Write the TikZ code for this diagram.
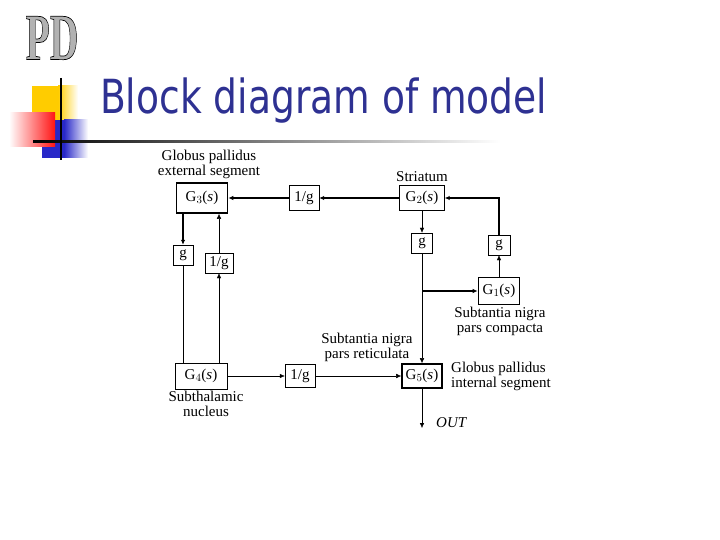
\documentclass[tikz,border=0pt]{standalone}
\usepackage{fontspec}
\setmainfont{Liberation Serif}
\newfontfamily\titlefont{DejaVu Sans}
\usetikzlibrary{arrows.meta}
\definecolor{titleblue}{RGB}{46,49,146}
\definecolor{decoyellow}{RGB}{255,204,0}
\definecolor{decored}{RGB}{255,20,20}
\definecolor{decoblue}{RGB}{40,40,200}
\newcommand{\outlinetext}[1]{\special{pdf:literal direct 2 Tr 0.7 w 0 G 0.7 g}#1\special{pdf:literal direct 0 Tr}}
\tikzset{
  blk/.style={draw, thin, inner sep=2pt, font=\fontsize{15}{15}\selectfont},
  blkthick/.style={blk, line width=1.6pt, inner xsep=3pt},
  lbl/.style={align=center, inner sep=0pt, font=\fontsize{15}{15}\selectfont},
  thickline/.style={line width=1.6pt},
}
\begin{document}
\begin{tikzpicture}[x=1pt, y=-1pt, >={Latex[length=5pt,width=4.5pt]}]
\useasboundingbox (0,0) rectangle (720,540);
% slide decoration
\node[font=\fontsize{66}{66}\bfseries\selectfont, xscale=.6] (logo) at (52,38) {\outlinetext{PD}};
\fill[decoyellow] (32,86) rectangle (58,120);
\shade[left color=decoyellow, right color=white] (58,86) rectangle (78,120);
\fill[decoblue] (42,120) rectangle (64,158);
\shade[left color=decoblue, right color=white] (64,120) rectangle (88,158);
\shade[left color=white, right color=decored] (9,113) rectangle (55,147);
\shade[left color=black, right color=white] (33,141) rectangle (500,143);
\draw[line width=2pt] (61,78) -- (61,160);
\node[anchor=base west, inner sep=0pt, text=titleblue, xscale=.8,
  font=\titlefont\fontsize{47}{47}\selectfont] (title) at (100,114) {Block diagram of model};
% blocks
\node[blkthick, minimum width=51pt, minimum height=30pt] (g3) at (202,198) {G$_3$(\textit{s})};
\node[blk, minimum width=30pt, minimum height=25pt] (ginvtop) at (304,198) {1/g};
\node[blk, minimum width=45pt, minimum height=25pt] (g2) at (422,198) {G$_2$(\textit{s})};
\node[blk, minimum width=21pt, minimum height=20pt] (gmid) at (422,243) {g};
\node[blk, minimum width=22pt, minimum height=20pt] (gright) at (499,245) {g};
\node[blkthick, minimum width=41pt, minimum height=27pt] (g1) at (499,291) {G$_1$(\textit{s})};
\node[blkthick, minimum width=40pt, minimum height=24pt] (g5) at (422,376) {G$_5$(\textit{s})};
\node[blk, minimum width=30pt, minimum height=23pt] (ginvbot) at (300,376) {1/g};
\node[blk, minimum width=52pt, minimum height=26pt] (g4) at (201,376) {G$_4$(\textit{s})};
\node[blk, minimum width=20pt, minimum height=20pt] (gleft) at (183,255) {g};
\node[blk, minimum width=28pt, minimum height=20pt] (ginvleft) at (219,263) {1/g};
% labels
\node[lbl] (gpe) at (209,164) {Globus pallidus\\external segment};
\node[lbl] (str) at (422,177) {Striatum};
\node[lbl] (snc) at (500,321) {Subtantia nigra\\pars compacta};
\node[lbl] (snr) at (367,347) {Subtantia nigra\\pars reticulata};
\node[lbl, align=left, anchor=west] (gpi) at (451,376) {Globus pallidus\\internal segment};
\node[lbl] (stn) at (206,404) {Subthalamic\\nucleus};
% connections
\draw[thickline,->] (g2) -- (ginvtop);
\draw[thickline,->] (ginvtop) -- (g3);
\draw[thickline,->] (gright.north) |- (g2.east);
\draw[->] (g1.north) -- (gright.south);
\draw[->] (g2.south) -- (gmid.north);
\draw[->] (gmid.south) -- (g5.north);
\coordinate (branch) at (gmid.south |- g1.west);
\draw[thickline,->] (branch) -- (g1.west);
\draw[->] (g4.east) -- (ginvbot.west);
\draw[->] (ginvbot.east) -- (g5.west);
\coordinate (out) at (422,428);
\draw[->] (g5.south) -- (out);
\node[lbl, anchor=west, font=\fontsize{15}{15}\itshape\selectfont] (outlbl) at (436,423) {OUT};
\draw[thickline,->] (g3.south -| gleft.north) -- (gleft.north);
\draw (gleft.south) -- (gleft.south |- g4.north);
\draw[->] (ginvleft.north) -- (ginvleft.north |- g3.south);
\draw[->] (ginvleft.south |- g4.north) -- (ginvleft.south);
\end{tikzpicture}
\end{document}
